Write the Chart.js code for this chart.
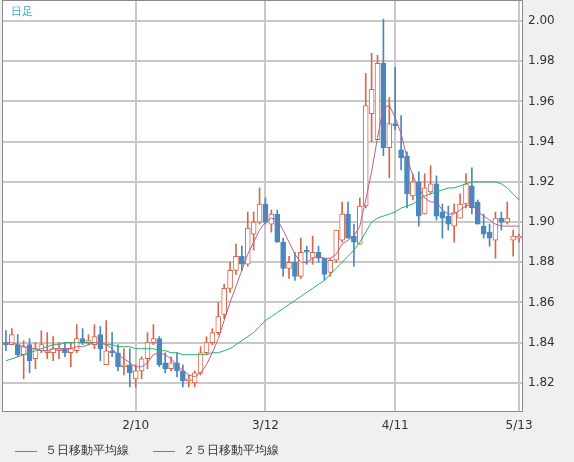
<!DOCTYPE html>
<html>
<head>
<meta charset="utf-8">
<script src="https://cdn.jsdelivr.net/npm/chart.js@4.4.0/dist/chart.umd.min.js"></script>
<style>
	html, body { margin: 0; padding: 0; background: #f0f0f0; }
	#wrap { width: 574px; height: 462px; position: relative; }
</style>
</head>
<body>
<div id="wrap"><canvas id="chart"></canvas></div>
<script>
const opens = [1.840,1.839,1.839,1.834,1.839,1.832,1.836,1.835,1.835,1.836,
	1.837,1.835,1.836,1.842,1.840,1.839,1.844,1.829,1.836,1.835,
	1.828,1.829,1.822,1.826,1.832,1.840,1.842,1.830,1.827,1.830,
	1.826,1.821,1.820,1.825,1.835,1.840,1.845,1.854,1.867,1.876,
	1.883,1.879,1.894,1.900,1.909,1.899,1.904,1.890,1.877,1.880,
	1.873,1.886,1.882,1.885,1.882,1.875,1.881,1.891,1.904,1.893,
	1.889,1.908,1.954,1.941,1.979,1.937,1.949,1.936,1.933,1.913,
	1.920,1.904,1.915,1.919,1.905,1.903,1.898,1.902,1.909,1.918,
	1.910,1.898,1.895,1.891,1.902,1.900,1.891,1.892];
const highs = [1.846,1.847,1.844,1.841,1.842,1.840,1.846,1.845,1.843,1.840,
	1.840,1.840,1.849,1.847,1.844,1.849,1.848,1.851,1.845,1.839,
	1.837,1.837,1.829,1.833,1.845,1.849,1.843,1.835,1.833,1.835,
	1.829,1.824,1.826,1.838,1.843,1.847,1.860,1.869,1.880,1.889,
	1.888,1.905,1.905,1.917,1.912,1.906,1.906,1.892,1.883,1.885,
	1.892,1.888,1.893,1.888,1.882,1.882,1.896,1.910,1.910,1.899,
	1.912,1.974,1.984,1.983,2.001,1.962,1.977,1.953,1.935,1.924,
	1.925,1.924,1.928,1.923,1.909,1.908,1.909,1.914,1.924,1.927,
	1.911,1.904,1.899,1.905,1.905,1.910,1.896,1.894];
const lows = [1.836,1.839,1.833,1.822,1.825,1.827,1.835,1.832,1.831,1.832,
	1.833,1.828,1.835,1.839,1.839,1.837,1.831,1.829,1.833,1.826,
	1.824,1.818,1.818,1.822,1.827,1.839,1.828,1.825,1.826,1.823,
	1.818,1.818,1.818,1.824,1.834,1.839,1.844,1.852,1.865,1.874,
	1.876,1.878,1.886,1.899,1.899,1.895,1.890,1.873,1.872,1.871,
	1.872,1.879,1.879,1.880,1.871,1.873,1.880,1.890,1.892,1.878,
	1.889,1.907,1.940,1.941,1.933,1.922,1.946,1.926,1.907,1.911,
	1.898,1.904,1.914,1.901,1.892,1.896,1.890,1.902,1.907,1.904,
	1.899,1.892,1.888,1.882,1.896,1.899,1.883,1.890];
const closes = [1.839,1.844,1.834,1.838,1.831,1.837,1.839,1.836,1.837,1.837,
	1.835,1.837,1.842,1.840,1.841,1.843,1.837,1.836,1.835,1.828,
	1.829,1.825,1.826,1.832,1.840,1.842,1.829,1.827,1.830,1.826,
	1.821,1.821,1.825,1.835,1.840,1.845,1.853,1.867,1.876,1.883,
	1.879,1.897,1.900,1.909,1.900,1.904,1.890,1.877,1.880,1.873,
	1.885,1.885,1.885,1.882,1.874,1.881,1.896,1.904,1.892,1.890,
	1.908,1.958,1.966,1.979,1.937,1.949,1.948,1.932,1.914,1.920,
	1.903,1.917,1.919,1.903,1.902,1.899,1.905,1.909,1.919,1.907,
	1.899,1.894,1.892,1.902,1.900,1.902,1.893,1.892];
const ma5 = [1.840,1.840,1.839,1.838,1.837,1.837,1.836,1.836,1.837,1.837,
	1.837,1.837,1.838,1.838,1.839,1.840,1.840,1.839,1.837,1.834,
	1.832,1.830,1.828,1.828,1.830,1.834,1.835,1.834,1.832,1.829,
	1.826,1.824,1.823,1.825,1.829,1.835,1.842,1.851,1.860,1.868,
	1.876,1.884,1.890,1.896,1.900,1.902,1.901,1.896,1.890,1.884,
	1.880,1.880,1.882,1.883,1.882,1.882,1.884,1.889,1.891,1.893,
	1.898,1.911,1.925,1.942,1.957,1.958,1.952,1.944,1.932,1.923,
	1.917,1.912,1.910,1.910,1.906,1.904,1.904,1.906,1.908,1.909,
	1.905,1.903,1.901,1.899,1.898,1.898,1.898,1.898];
const ma25 = [1.831,1.832,1.833,1.834,1.835,1.836,1.837,1.838,1.839,1.839,
	1.840,1.840,1.840,1.840,1.840,1.840,1.840,1.839,1.839,1.838,
	1.838,1.838,1.837,1.837,1.837,1.837,1.836,1.836,1.835,1.835,
	1.834,1.834,1.834,1.834,1.834,1.835,1.835,1.836,1.837,1.839,
	1.841,1.843,1.845,1.848,1.851,1.853,1.855,1.857,1.859,1.861,
	1.863,1.865,1.867,1.869,1.871,1.874,1.877,1.880,1.883,1.886,
	1.890,1.895,1.900,1.902,1.903,1.904,1.905,1.907,1.908,1.909,
	1.911,1.913,1.914,1.915,1.916,1.917,1.917,1.918,1.919,1.920,
	1.920,1.920,1.920,1.920,1.919,1.917,1.914,1.911];
const yTicks = [1.82, 1.84, 1.86, 1.88, 1.90, 1.92, 1.94, 1.96, 1.98, 2.00];
const xTickIdx = [22, 44, 66, 87];
const xTickLabels = ['2/10', '3/12', '4/11', '5/13'];
const legendNames = ['５日移動平均線', '２５日移動平均線'];

const UP = '#d9664a';
const DOWN = '#4a87bf';
const FONT = '"DejaVu Sans", sans-serif';
const categories = closes.map((c, i) => i);
const isUp = closes.map((c, i) => c >= opens[i]);

const framePlugin = {
	id: 'frame',
	beforeDraw(chart) {
		const { ctx, chartArea: a } = chart;
		ctx.save();
		ctx.fillStyle = '#ffffff';
		ctx.fillRect(a.left, a.top, a.right - a.left, a.bottom - a.top);
		ctx.restore();
	},
	afterDraw(chart) {
		const { ctx, chartArea: a } = chart;
		ctx.save();
		ctx.strokeStyle = '#8a8a8a';
		ctx.lineWidth = 1;
		ctx.strokeRect(a.left - 0.5, a.top - 0.5, a.right - a.left + 1, a.bottom - a.top + 1);
		ctx.font = '11px ' + FONT;
		ctx.fillStyle = '#3aa8d8';
		ctx.textBaseline = 'middle';
		ctx.fillText('日足', a.left + 8, 12);
		// legend
		ctx.font = '12px ' + FONT;
		ctx.fillStyle = '#333';
		const y = 451;
		[[15, '#b5628f', legendNames[0]], [153, '#29b16a', legendNames[1]]].forEach(([x, col, name]) => {
			ctx.strokeStyle = col;
			ctx.beginPath();
			ctx.moveTo(x, y + 0.5);
			ctx.lineTo(x + 22, y + 0.5);
			ctx.stroke();
			ctx.fillText(name, x + 30, y);
		});
		ctx.restore();
	}
};

new Chart(document.getElementById('chart'), {
	type: 'bar',
	data: {
		labels: categories,
		datasets: [
			{
				type: 'line',
				data: ma5,
				borderColor: '#b5628f',
				borderWidth: 1,
				pointRadius: 0,
				order: 1
			},
			{
				type: 'line',
				data: ma25,
				borderColor: '#29b16a',
				borderWidth: 1,
				pointRadius: 0,
				order: 2
			},
			{
				data: closes.map((c, i) => [opens[i], c]),
				backgroundColor: isUp.map((u) => (u ? '#ffffff' : DOWN)),
				borderColor: isUp.map((u) => (u ? UP : DOWN)),
				borderWidth: 1,
				borderSkipped: false,
				barThickness: 5,
				minBarLength: 2,
				grouped: false,
				order: 3
			},
			{
				data: highs.map((h, i) => [lows[i], h]),
				backgroundColor: isUp.map((u) => (u ? UP : DOWN)),
				borderWidth: 0,
				barThickness: 1,
				grouped: false,
				order: 4
			}
		]
	},
	options: {
		responsive: true,
		maintainAspectRatio: false,
		animation: false,
		layout: { padding: { left: 3, top: 1, right: 0, bottom: 27 } },
		plugins: {
			legend: { display: false },
			tooltip: { enabled: false }
		},
		scales: {
			x: {
				offset: true,
				border: { display: false },
				grid: { color: '#c8c8c8', offset: false, drawTicks: false, lineWidth: 2 },
				afterBuildTicks(scale) {
					scale.ticks = xTickIdx.map((v) => ({ value: v }));
				},
				afterFit(scale) {
					scale.height = 24;
					scale.paddingLeft = 0;
					scale.paddingRight = 0;
				},
				ticks: {
					autoSkip: false,
					maxRotation: 0,
					padding: 8,
					color: '#333',
					font: { family: FONT, size: 12 },
					callback: (v) => xTickLabels[xTickIdx.indexOf(v)]
				}
			},
			y: {
				position: 'right',
				min: 1.806,
				max: 2.010,
				border: { display: false },
				grid: { color: '#c8c8c8', drawTicks: false, lineWidth: 2 },
				afterBuildTicks(scale) {
					scale.ticks = yTicks.map((v) => ({ value: v }));
				},
				afterFit(scale) {
					scale.width = 52;
					scale.paddingTop = 0;
					scale.paddingBottom = 0;
				},
				ticks: {
					padding: 6,
					color: '#333',
					font: { family: FONT, size: 12 },
					callback: (v) => v.toFixed(2)
				}
			}
		}
	},
	plugins: [framePlugin]
});
</script>
</body>
</html>
